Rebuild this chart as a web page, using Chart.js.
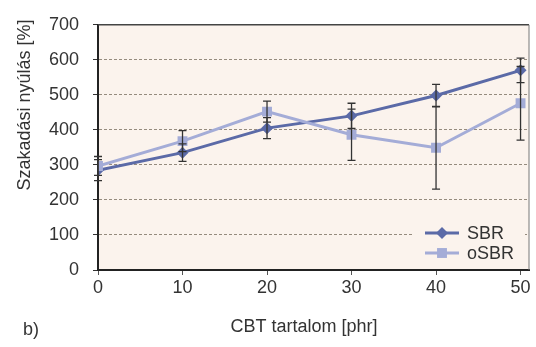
<!DOCTYPE html>
<html>
<head>
<meta charset="utf-8">
<script src="https://cdn.jsdelivr.net/npm/chart.js@4.4.1/dist/chart.umd.min.js"></script>
<style>
    html, body { margin: 0; padding: 0; background: #fff; }
</style>
</head>
<body>
<canvas id="grafica" width="536" height="347"></canvas>
<script>
// DATOS
const cbtTartalom = [0, 10, 20, 30, 40, 50];
const sbrErtek = [285, 335, 405, 440, 498, 570];
const sbrHiba = [30, 25, 30, 36, 32, 35];
const osbrErtek = [297, 368, 452, 386, 349, 476];
const osbrHiba = [27, 30, 30, 73, 118, 105];
const yTicks = [0, 100, 200, 300, 400, 500, 600, 700];
const xTicks = [0, 10, 20, 30, 40, 50];

const FONT = "'Liberation Sans', Arial, sans-serif";
const colorSBR = '#5b6aa7';
const colorOSBR = '#a4acd7';
const fondo = '#fbf3ed';

// Fondo del área del gráfico
const fondoPlugin = {
    id: 'fondo',
    beforeDraw(chart) {
        const a = chart.chartArea;
        const ctx = chart.ctx;
        ctx.save();
        ctx.fillStyle = fondo;
        ctx.fillRect(a.left, a.top, a.right - a.left, a.bottom - a.top);
        ctx.restore();
    }
};

// Barras de error
const errorPlugin = {
    id: 'errores',
    afterDatasetsDraw(chart) {
        const ctx = chart.ctx;
        const xs = chart.scales.x, ys = chart.scales.y;
        ctx.save();
        ctx.strokeStyle = '#333';
        ctx.lineWidth = 1.3;
        chart.data.datasets.forEach(ds => {
            ds.data.forEach((p, i) => {
                const x = xs.getPixelForValue(p.x);
                const y1 = ys.getPixelForValue(p.y + ds.errores[i]);
                const y2 = ys.getPixelForValue(p.y - ds.errores[i]);
                ctx.beginPath();
                ctx.moveTo(x, y1); ctx.lineTo(x, y2);
                ctx.moveTo(x - 4, y1); ctx.lineTo(x + 4, y1);
                ctx.moveTo(x - 4, y2); ctx.lineTo(x + 4, y2);
                ctx.stroke();
            });
        });
        ctx.restore();
    }
};

// Marco, leyenda y textos
const extrasPlugin = {
    id: 'extras',
    afterDraw(chart) {
        const a = chart.chartArea;
        const ctx = chart.ctx;
        ctx.save();
        // marco superior y derecho
        ctx.strokeStyle = '#444';
        ctx.lineWidth = 1.5;
        ctx.beginPath();
        ctx.moveTo(a.left, a.top); ctx.lineTo(a.right, a.top);
        ctx.stroke();
        ctx.strokeStyle = '#777';
        ctx.lineWidth = 1;
        ctx.beginPath();
        ctx.moveTo(a.right, a.top); ctx.lineTo(a.right, a.bottom);
        ctx.stroke();

        // leyenda
        const lx = a.right - 116, ly = a.bottom - 45;
        ctx.fillStyle = fondo;
        ctx.fillRect(lx, ly, 112, 41);
        chart.data.datasets.forEach((ds, i) => {
            const y = ly + 8 + i * 20;
            ctx.strokeStyle = ds.borderColor;
            ctx.lineWidth = 3;
            ctx.beginPath();
            ctx.moveTo(lx + 12, y); ctx.lineTo(lx + 46, y);
            ctx.stroke();
            ctx.fillStyle = ds.backgroundColor;
            Chart.helpers.drawPoint(ctx, {
                pointStyle: ds.pointStyle, radius: ds.pointRadius, rotation: 0, borderWidth: 0
            }, lx + 29, y);
            ctx.fillStyle = '#333';
            ctx.font = '18px ' + FONT;
            ctx.textBaseline = 'middle';
            ctx.textAlign = 'left';
            ctx.fillText(ds.label, lx + 54, y + 1);
        });

        // títulos de ejes
        ctx.fillStyle = '#333';
        ctx.font = '18px ' + FONT;
        ctx.textAlign = 'center';
        ctx.textBaseline = 'middle';
        ctx.fillText('CBT tartalom [phr]', 304, 327);
        ctx.fillText('b)', 31, 330);
        ctx.translate(25, 105);
        ctx.rotate(-Math.PI / 2);
        ctx.fillText('Szakadási nyúlás [%]', 0, 0);
        ctx.restore();
    }
};

new Chart(document.getElementById('grafica'), {
    type: 'line',
    data: {
        datasets: [
            {
                label: 'SBR',
                data: cbtTartalom.map((x, i) => ({ x: x, y: sbrErtek[i] })),
                errores: sbrHiba,
                borderColor: colorSBR,
                backgroundColor: colorSBR,
                borderWidth: 3,
                pointStyle: 'rectRot',
                pointRadius: 6,
                pointBorderWidth: 0,
                order: 1
            },
            {
                label: 'oSBR',
                data: cbtTartalom.map((x, i) => ({ x: x, y: osbrErtek[i] })),
                errores: osbrHiba,
                borderColor: colorOSBR,
                backgroundColor: colorOSBR,
                borderWidth: 3,
                pointStyle: 'rect',
                pointRadius: 7,
                pointBorderWidth: 0,
                order: 0
            }
        ]
    },
    options: {
        responsive: false,
        animation: false,
        layout: { padding: { top: 18, right: 7, left: 0, bottom: 0 } },
        plugins: {
            legend: { display: false },
            tooltip: { enabled: false }
        },
        scales: {
            x: {
                type: 'linear',
                min: 0,
                max: 51,
                afterBuildTicks: s => { s.ticks = xTicks.map(v => ({ value: v })); },
                afterFit: s => { s.height = 77; },
                ticks: { color: '#333', font: { family: FONT, size: 18 }, padding: 2 },
                grid: { drawOnChartArea: false, drawTicks: true, tickLength: 5, tickColor: '#555' },
                border: { color: '#222', width: 2 }
            },
            y: {
                min: 0,
                max: 700,
                afterBuildTicks: s => { s.ticks = yTicks.map(v => ({ value: v })); },
                afterFit: s => { s.width = 98; },
                ticks: { color: '#333', font: { family: FONT, size: 18 }, padding: 14 },
                grid: { color: '#958b7e', lineWidth: 1, tickLength: 5, tickColor: '#333', tickBorderDash: [] },
                border: { color: '#222', width: 2, dash: [3, 2] }
            }
        }
    },
    plugins: [fondoPlugin, errorPlugin, extrasPlugin]
});
</script>
</body>
</html>
